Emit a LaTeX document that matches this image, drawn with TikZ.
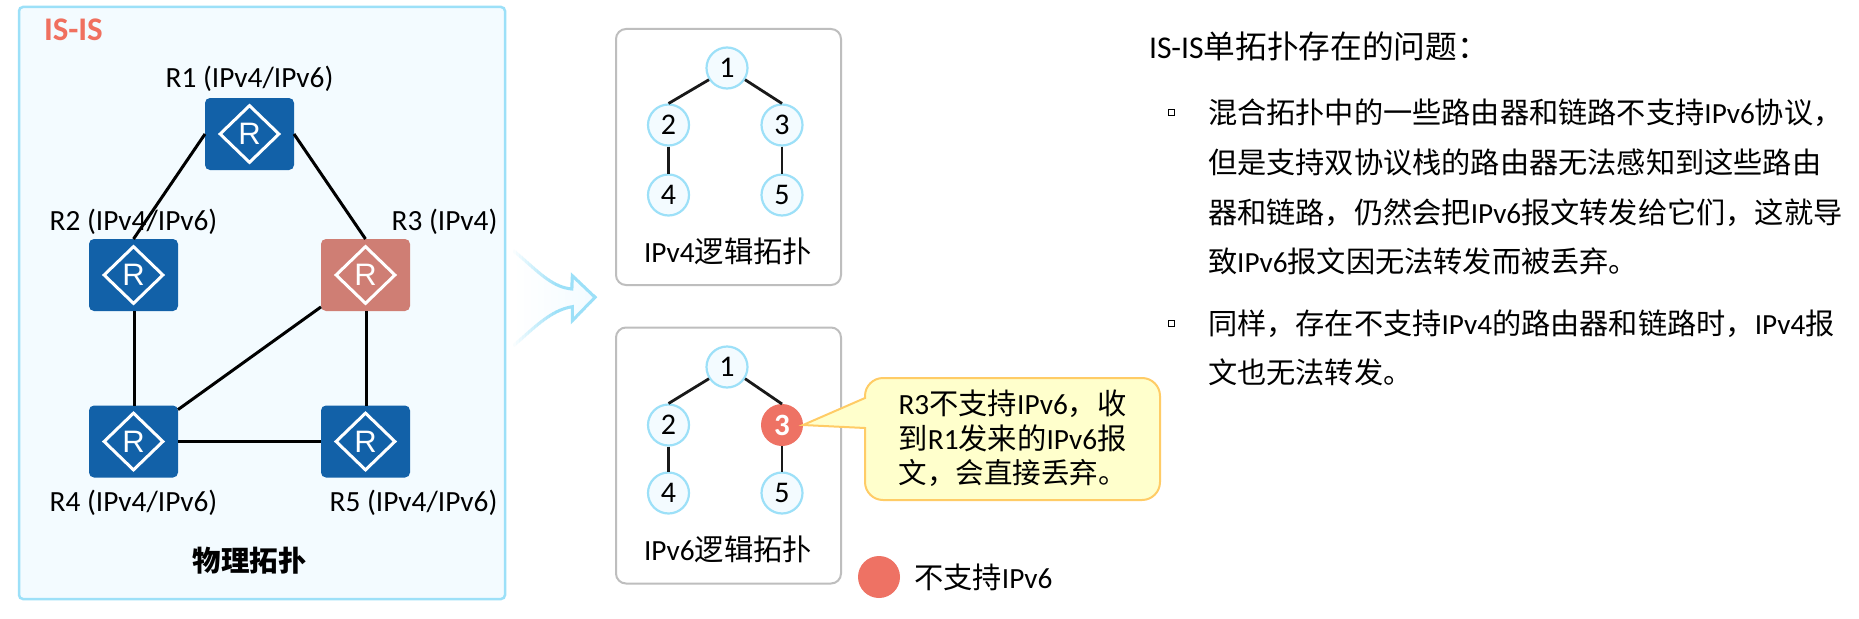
\documentclass[tikz,border=0pt]{standalone}
\usepackage{fontspec}
\setmainfont{Carlito}
\newfontfamily\cjk{Noto Sans CJK SC}
\newfontfamily\rfont{Liberation Sans}
\usetikzlibrary{shapes.geometric}
\newcommand\zh[1]{{\cjk #1}}
\newcommand\fs[1]{\fontsize{#1}{#1}\selectfont}
\definecolor{lightb}{HTML}{9CE0F8}
\definecolor{paleb}{HTML}{F3FBFF}
\definecolor{router}{HTML}{1261A8}
\definecolor{routerred}{HTML}{CF7E74}
\definecolor{redc}{HTML}{EE7264}
\definecolor{grayb}{HTML}{BEBEBE}
\definecolor{calf}{HTML}{FFFFCC}
\definecolor{cald}{HTML}{FFCC66}
\definecolor{isis}{HTML}{F0705F}
\tikzset{
  routerbox/.style={rectangle,rounded corners=5,minimum width=89,minimum height=72,inner sep=0,outer sep=0,fill=#1},
  rdiamond/.style={diamond,draw=white,line width=3,minimum width=60,minimum height=58,inner sep=0,shape aspect=1,text=white,font=\rfont\fs{31}},
  phys/.style={line width=3,black},
  lab/.style={inner sep=0,outer sep=0,anchor=base,font=\fs{29.3}},
  labw/.style={inner sep=0,outer sep=0,anchor=base west,font=\fs{29.3}},
  topo/.style={circle,draw=lightb,fill=paleb,line width=2.2,minimum size=41,inner sep=0,outer sep=1,font=\fs{30}},
  topored/.style={circle,fill=redc,minimum size=42,inner sep=0,outer sep=0,text=white,font=\bfseries\fs{31}},
  logic/.style={line width=2.8,black!90},
  panel/.style={rectangle,draw=grayb,line width=2,rounded corners=10,fill=white,minimum width=225,minimum height=256,inner sep=0},
  callbox/.style={draw=cald,fill=calf,line width=2},
  bulletbox/.style={rectangle,draw=black,line width=.9,minimum size=6,inner sep=0,outer sep=0},
  body/.style={inner sep=0,outer sep=0,anchor=base west,font=\cjk\fs{29.2}},
}
\begin{document}
\begin{tikzpicture}[x=1pt,y=-1pt]
\useasboundingbox (0,0) rectangle (1859,618);
\fill[white] (0,0) rectangle (1859,618);
% physical frame
\node[rectangle,draw=lightb,fill=paleb,line width=2.5,rounded corners=4,minimum width=486,minimum height=592,inner sep=0] (frame) at (262,303) {};
\node[lab,anchor=base west,text=isis,font=\bfseries\fs{33}] (tisis) at (44,41) {IS-IS};
% routers
\node[routerbox=router] (R1) at (249.5,134) {};
\node[routerbox=router] (R2) at (133.5,275) {};
\node[routerbox=routerred] (R3) at (365.5,275) {};
\node[routerbox=router] (R4) at (133.5,441.5) {};
\node[routerbox=router] (R5) at (365.5,441.5) {};
\draw[phys] (R1.west) -- (R2.north);
\draw[phys] (R1.east) -- (R3.north);
\draw[phys] ([xshift=1]R2.south) -- ([xshift=1]R4.north);
\draw[phys] ([xshift=1]R3.south) -- ([xshift=1]R5.north);
\draw[phys] (R3) -- (R4);
\draw[phys] (R4.east) -- (R5.west);
\foreach \r in {R1,R2,R3,R4,R5} \node[rdiamond] (\r d) at (\r) {R};
\node[lab] (l1) at (249.5,87) {R1 (IPv4/IPv6)};
\node[lab] (l2) at (133.5,230) {R2 (IPv4/IPv6)};
\node[lab] (l3) at (444.5,230) {R3 (IPv4)};
\node[lab] (l4) at (133.5,511) {R4 (IPv4/IPv6)};
\node[lab] (l5) at (413.5,511) {R5 (IPv4/IPv6)};
\node[lab,font=\cjk\bfseries\fs{28.5}] (lphys) at (249.5,571) {物理拓扑};
% arrow
\def\arrowpath{(513.3,250.7) .. controls (535,268) and (550,287) .. (571.7,289) -- (572.3,275.7) -- (595,297.3) -- (572.3,320.7) -- (572.3,306.7) .. controls (550,310) and (532,330) .. (513.3,345.7)}
\shade[left color=white,right color=paleb] \arrowpath;
\foreach \i in {0,...,28} {
  \pgfmathsetmacro\xa{510+3*\i}
  \pgfmathsetmacro\xb{\xa+3.4}
  \pgfmathtruncatemacro\t{min(100,\i*100/15)}
  \begin{scope}
    \clip (\xa,240) rectangle (\xb,355);
    \draw[lightb!\t!white,line width=3,line join=miter] \arrowpath;
  \end{scope}
}
\begin{scope}
  \clip (594,240) rectangle (600,355);
  \draw[lightb,line width=3,line join=miter] \arrowpath;
\end{scope}
% IPv4 panel
\node[panel] (pa) at (728.5,157) {};
\node[topo] (a1) at (727,68) {1};
\node[topo] (a2) at (668.5,125) {2};
\node[topo] (a3) at (782,125) {3};
\node[topo] (a4) at (668.5,195) {4};
\node[topo] (a5) at (782,195) {5};
\draw[logic] (a1.213) -- (a2.north);
\draw[logic] (a1.327) -- (a3.north);
\draw[logic] (a2.south) -- (a4.north);
\draw[logic] (a3.south) -- (a5.north);
\node[lab] (ta) at (728,262) {IPv4\zh{逻辑拓扑}};
% IPv6 panel
\node[panel] (pb) at (728.5,455.5) {};
\node[topo] (b1) at (727,367) {1};
\node[topo] (b2) at (668.5,425) {2};
\node[topored] (b3) at (782,425) {3};
\node[topo] (b4) at (668.5,493) {4};
\node[topo] (b5) at (782,493) {5};
\draw[logic] (b1.213) -- (b2.north);
\draw[logic] (b1.327) -- (b3.north);
\draw[logic] (b2.south) -- (b4.north);
\draw[logic] (b3.south) -- (b5.north);
\node[lab] (tb) at (728,560) {IPv6\zh{逻辑拓扑}};
% callout
\coordinate (ctip) at (b3.east);
\draw[callbox] (865,398) -- (ctip) -- (865,428) [rounded corners=18] -- (865,500) -- (1160,500) -- (1160,378) -- (865,378) [sharp corners] -- cycle;
\node[lab] (c1) at (1012.5,414) {R3\zh{不支持}IPv6\zh{，收}};
\node[lab] (c2) at (1012.5,449) {\zh{到}R1\zh{发来的}IPv6\zh{报}};
\node[lab,font=\cjk\fs{28.5}] (c3) at (1012.5,483) {文，会直接丢弃。};
% legend
\node[circle,fill=redc,minimum size=42,inner sep=0] (leg) at (879,577) {};
\node[labw] (legt) at (914,588) {\zh{不支持}IPv6};
% right text
\node[inner sep=0,outer sep=0,anchor=base west,font=\fs{31.7}] (head) at (1149,59) {IS-IS\zh{单拓扑存在的问题：}};
\node[bulletbox] (b1x) at (1171,112) {};
\node[body] (t1) at (1208,123.5) {混合拓扑中的一些路由器和链路不支持{\fontspec{Carlito}IPv6}协议，};
\node[body] (t2) at (1208,173) {但是支持双协议栈的路由器无法感知到这些路由};
\node[body] (t3) at (1208,223) {器和链路，仍然会把{\fontspec{Carlito}IPv6}报文转发给它们，这就导};
\node[body] (t4) at (1208,272) {致{\fontspec{Carlito}IPv6}报文因无法转发而被丢弃。};
\node[bulletbox] (b2x) at (1171,323) {};
\node[body] (t5) at (1208,334) {同样，存在不支持{\fontspec{Carlito}IPv4}的路由器和链路时，{\fontspec{Carlito}IPv4}报};
\node[body] (t6) at (1208,383) {文也无法转发。};
\end{tikzpicture}
\end{document}
